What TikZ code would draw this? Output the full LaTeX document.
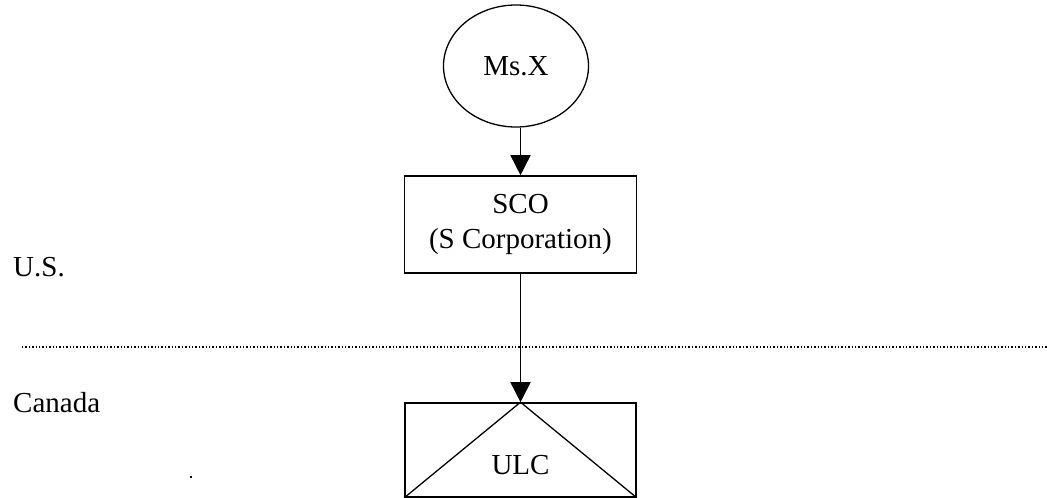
\documentclass[tikz,border=0pt]{standalone}
\usepackage{fontspec}
\setmainfont{Liberation Serif}
\usetikzlibrary{arrows.meta,shapes.geometric}
\begin{document}
\begin{tikzpicture}[x=1pt,y=-1pt,
  every node/.style={font=\fontsize{29}{35}\selectfont},
  entity/.style={draw,line width=1.6pt,rectangle,inner sep=0pt,align=center},
  owner/.style={draw,line width=1.3pt,ellipse,inner sep=0pt},
  link/.style={line width=1.6pt,-{Triangle[width=20pt,length=20pt]}},
  border/.style={line width=1.3pt,dash pattern=on 1.4pt off 2pt},
  region/.style={anchor=west,inner sep=0pt}]
  \useasboundingbox (0,0) rectangle (1047,498);

  % shareholder
  \node[owner,minimum width=145pt,minimum height=122pt] (msx) at (516,66) {Ms.X};

  % U.S. corporation
  \node[entity,minimum width=232pt,minimum height=97pt] (sco) at (520.5,224.5)
    {SCO\\(S Corporation)};

  % Canadian unlimited liability company
  \node[entity,minimum width=231pt,minimum height=94pt] (ulc) at (520.5,450) {};
  \draw[line width=1.3pt] (ulc.south west) -- (ulc.north) -- (ulc.south east);
  \node (ulclabel) at (520.5,465) {ULC};

  % ownership links
  \draw[link] (msx.south -| sco.north) -- (sco.north);
  \draw[link] (sco.south) -- (ulc.north);

  % national border
  \coordinate (bl) at (22,347);
  \coordinate (br) at (1047,347);
  \draw[border] (bl) -- (br);
  \node[region] (us) at (13,267) {U.S.};
  \node[region] (ca) at (13,403) {Canada};

  % stray mark
  \fill (190,476.3) rectangle (192,477.7);
\end{tikzpicture}
\end{document}
